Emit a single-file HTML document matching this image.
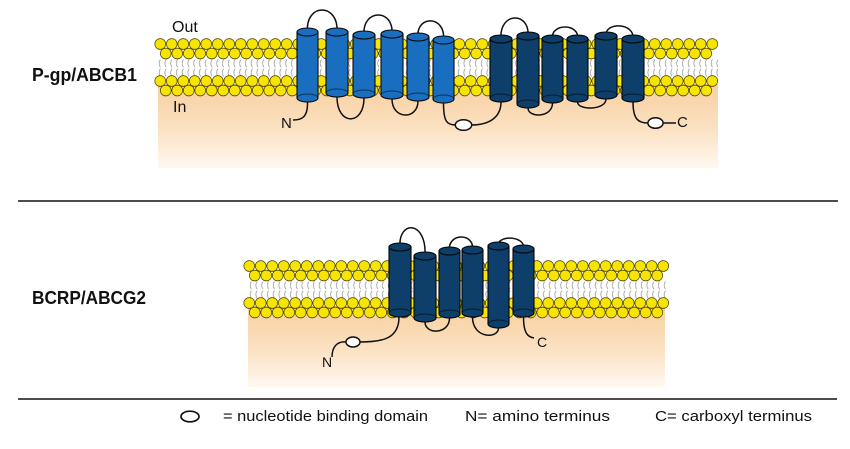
<!DOCTYPE html>
<html>
<head>
<meta charset="utf-8">
<style>
html,body{margin:0;padding:0;background:#fff;}
svg{display:block;}
text{font-family:"Liberation Sans",Arial,sans-serif;fill:#111;}
</style>
</head>
<body>
<svg width="850" height="449" viewBox="0 0 850 449" xmlns="http://www.w3.org/2000/svg">
<defs>
  <linearGradient id="og" x1="0" y1="0" x2="0" y2="1">
    <stop offset="0" stop-color="#f8cf9e"/>
    <stop offset="0.55" stop-color="#fbe2c4"/>
    <stop offset="1" stop-color="#fff8f1"/>
  </linearGradient>
  <pattern id="ball" patternUnits="userSpaceOnUse" width="11.5" height="13">
    <circle cx="5.75" cy="6.5" r="5.4" fill="#f7e400" stroke="#4a4300" stroke-width="0.7"/>
  </pattern>
  <pattern id="tail" patternUnits="userSpaceOnUse" width="5.75" height="18">
    <path d="M3.4,0.5 Q0.8,4.2 3.4,8.2 M3.4,9.6 Q0.8,13.5 3.4,17.5" fill="none" stroke="#8c8c8c" stroke-width="0.7"/>
  </pattern>
</defs>

<rect width="850" height="449" fill="#fff"/>

<!-- ============ TOP FIGURE (P-gp) ============ -->
<rect x="158" y="84" width="560" height="84" fill="url(#og)"/>
<rect transform="translate(157,59)" width="561" height="18" fill="url(#tail)"/>
<rect transform="translate(154.5,37.5)" width="563.5" height="13" fill="url(#ball)"/>
<rect transform="translate(160,47)" width="552" height="13" fill="url(#ball)"/>
<rect transform="translate(154.5,74.5)" width="563.5" height="13" fill="url(#ball)"/>
<rect transform="translate(160,84)" width="552" height="13" fill="url(#ball)"/>

<g fill="none" stroke="#111" stroke-width="1.5">
  <path d="M307.5,32 C305,2.7 339,2.7 337,32"/>
  <path d="M364,35 C362,8.5 394,8.5 392,34"/>
  <path d="M418,37 C416,15 446,15 443.5,40"/>
  <path d="M501,39 C499,11.5 530,11.5 528,36"/>
  <path d="M552.5,39 C550,23 580,23 577.5,39"/>
  <path d="M606,36 C604,22 635,22 633,39"/>
  <path d="M337,97 C337,126 364,126 364,98"/>
  <path d="M392,99 C392,120 418,120 418,101"/>
  <path d="M528,108 C528,118 552.5,118 552.5,103"/>
  <path d="M577.5,102 C577.5,110.5 606,110.5 606,99"/>
  <path d="M307.5,102 C308,118 301,120 293,120"/>
  <path d="M443.5,103 C443.5,122 447,125 456,125"/>
  <path d="M471,125 C491,125 501,116 501,102"/>
  <path d="M633,102 C633,119 638,123 648,123"/>
  <path d="M663,123 L676,123"/>
</g>
<ellipse cx="463.5" cy="125" rx="8.2" ry="5.3" fill="#fff" stroke="#111" stroke-width="1.5"/>
<ellipse cx="655.5" cy="123" rx="7.6" ry="5.3" fill="#fff" stroke="#111" stroke-width="1.5"/>

<!-- light blue cylinders -->
<g fill="#1a6ebf" stroke="#0a0a0a" stroke-width="1.1">
  <path d="M297,32 L297,98 A10.5,4 0 0 0 318,98 L318,32 Z"/><ellipse cx="307.5" cy="32" rx="10.5" ry="4"/>
  <path d="M326,32 L326,93 A11,4 0 0 0 348,93 L348,32 Z"/><ellipse cx="337" cy="32" rx="11" ry="4"/>
  <path d="M353,35 L353,94 A11,4 0 0 0 375,94 L375,35 Z"/><ellipse cx="364" cy="35" rx="11" ry="4"/>
  <path d="M381,34 L381,95 A11,4 0 0 0 403,95 L403,34 Z"/><ellipse cx="392" cy="34" rx="11" ry="4"/>
  <path d="M407,37 L407,97 A11,4 0 0 0 429,97 L429,37 Z"/><ellipse cx="418" cy="37" rx="11" ry="4"/>
  <path d="M433,40 L433,99 A10.5,4 0 0 0 454,99 L454,40 Z"/><ellipse cx="443.5" cy="40" rx="10.5" ry="4"/>
</g>
<!-- dark cylinders (top) -->
<g fill="#0e3e6a" stroke="#050505" stroke-width="1.1">
  <path d="M490,39 L490,98 A11,4 0 0 0 512,98 L512,39 Z"/><ellipse cx="501" cy="39" rx="11" ry="4"/>
  <path d="M517,36 L517,104 A11,4 0 0 0 539,104 L539,36 Z"/><ellipse cx="528" cy="36" rx="11" ry="4"/>
  <path d="M542,39 L542,99 A10.5,4 0 0 0 563,99 L563,39 Z"/><ellipse cx="552.5" cy="39" rx="10.5" ry="4"/>
  <path d="M567,39 L567,98 A10.5,4 0 0 0 588,98 L588,39 Z"/><ellipse cx="577.5" cy="39" rx="10.5" ry="4"/>
  <path d="M595,36 L595,95 A11,4 0 0 0 617,95 L617,36 Z"/><ellipse cx="606" cy="36" rx="11" ry="4"/>
  <path d="M622,39 L622,98 A11,4 0 0 0 644,98 L644,39 Z"/><ellipse cx="633" cy="39" rx="11" ry="4"/>
</g>
<g fill="none" stroke="#000" stroke-opacity="0.55" stroke-width="0.9">
  <path d="M297,98 A10.5,4 0 0 1 318,98"/>
  <path d="M326,93 A11,4 0 0 1 348,93"/>
  <path d="M353,94 A11,4 0 0 1 375,94"/>
  <path d="M381,95 A11,4 0 0 1 403,95"/>
  <path d="M407,97 A11,4 0 0 1 429,97"/>
  <path d="M433,99 A10.5,4 0 0 1 454,99"/>
  <path d="M490,98 A11,4 0 0 1 512,98"/>
  <path d="M517,104 A11,4 0 0 1 539,104"/>
  <path d="M542,99 A10.5,4 0 0 1 563,99"/>
  <path d="M567,98 A10.5,4 0 0 1 588,98"/>
  <path d="M595,95 A11,4 0 0 1 617,95"/>
  <path d="M622,98 A11,4 0 0 1 644,98"/>
</g>

<text x="172" y="32" font-size="16">Out</text>
<text x="173" y="112" font-size="16">In</text>
<text x="281" y="128" font-size="15">N</text>
<text x="677" y="127" font-size="15">C</text>
<text x="32" y="81" font-size="18" font-weight="bold" textLength="105" lengthAdjust="spacingAndGlyphs">P-gp/ABCB1</text>

<!-- divider -->
<line x1="18" y1="201" x2="838" y2="201" stroke="#111" stroke-width="1.6"/>

<!-- ============ BOTTOM FIGURE (BCRP) ============ -->
<rect x="248" y="306" width="417" height="81" fill="url(#og)"/>
<rect transform="translate(248,281)" width="419" height="18" fill="url(#tail)"/>
<rect transform="translate(243.5,259.5)" width="425.5" height="13" fill="url(#ball)"/>
<rect transform="translate(249,269)" width="414" height="13" fill="url(#ball)"/>
<rect transform="translate(243.5,296.5)" width="425.5" height="13" fill="url(#ball)"/>
<rect transform="translate(249,306)" width="414" height="13" fill="url(#ball)"/>

<g fill="none" stroke="#111" stroke-width="1.5">
  <path d="M400,247 C398,220 427,220 425,256"/>
  <path d="M449.5,251 C447,232.5 475,232.5 472.5,250"/>
  <path d="M498.5,246 C496,235 526,235 523.5,249"/>
  <path d="M425,322 C425,334.7 449.5,334.7 449.5,318"/>
  <path d="M472.5,317 C472.5,339 498.5,339 498.5,328"/>
  <path d="M399,317 C399,339 382,342 360,342"/>
  <path d="M346,342 C338,341 332,346 332,357"/>
  <path d="M523.5,317 C523.5,332 527,337 534,338"/>
</g>
<ellipse cx="353" cy="342" rx="7" ry="5" fill="#fff" stroke="#111" stroke-width="1.5"/>

<g fill="#0e3e6a" stroke="#050505" stroke-width="1.1">
  <path d="M389,247 L389,313 A11,4 0 0 0 411,313 L411,247 Z"/><ellipse cx="400" cy="247" rx="11" ry="4"/>
  <path d="M414,256 L414,318 A11,4 0 0 0 436,318 L436,256 Z"/><ellipse cx="425" cy="256" rx="11" ry="4"/>
  <path d="M439,251 L439,314 A10.5,4 0 0 0 460,314 L460,251 Z"/><ellipse cx="449.5" cy="251" rx="10.5" ry="4"/>
  <path d="M462,250 L462,313 A10.5,4 0 0 0 483,313 L483,250 Z"/><ellipse cx="472.5" cy="250" rx="10.5" ry="4"/>
  <path d="M488,246 L488,324 A10.5,4 0 0 0 509,324 L509,246 Z"/><ellipse cx="498.5" cy="246" rx="10.5" ry="4"/>
  <path d="M513,249 L513,313 A10.5,4 0 0 0 534,313 L534,249 Z"/><ellipse cx="523.5" cy="249" rx="10.5" ry="4"/>
</g>
<g fill="none" stroke="#000" stroke-opacity="0.55" stroke-width="0.9">
  <path d="M389,313 A11,4 0 0 1 411,313"/>
  <path d="M414,318 A11,4 0 0 1 436,318"/>
  <path d="M439,314 A10.5,4 0 0 1 460,314"/>
  <path d="M462,313 A10.5,4 0 0 1 483,313"/>
  <path d="M488,324 A10.5,4 0 0 1 509,324"/>
  <path d="M513,313 A10.5,4 0 0 1 534,313"/>
</g>

<text x="322" y="367" font-size="14">N</text>
<text x="537" y="347" font-size="14">C</text>
<text x="32" y="304" font-size="18" font-weight="bold" textLength="114" lengthAdjust="spacingAndGlyphs">BCRP/ABCG2</text>

<!-- divider -->
<line x1="18" y1="399" x2="837" y2="399" stroke="#111" stroke-width="1.6"/>

<!-- legend -->
<ellipse cx="190" cy="416.5" rx="9" ry="5.3" fill="#fff" stroke="#111" stroke-width="1.7"/>
<text x="223" y="421" font-size="15" textLength="205" lengthAdjust="spacingAndGlyphs">= nucleotide binding domain</text>
<text x="465" y="421" font-size="15" textLength="145" lengthAdjust="spacingAndGlyphs">N= amino terminus</text>
<text x="655" y="421" font-size="15" textLength="157" lengthAdjust="spacingAndGlyphs">C= carboxyl terminus</text>
</svg>
</body>
</html>
